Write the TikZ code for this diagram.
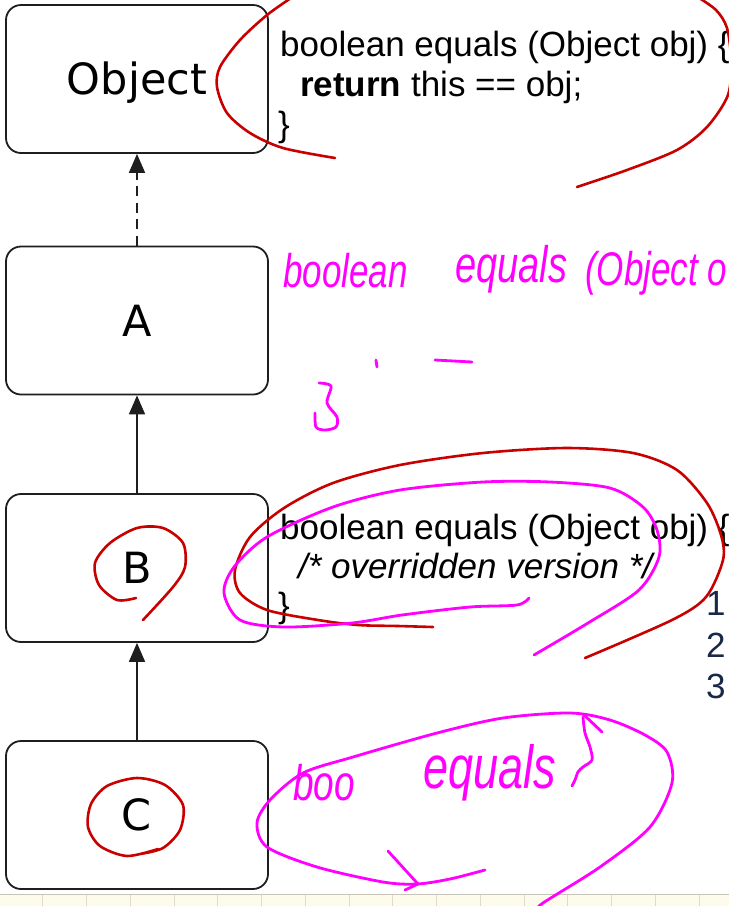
\documentclass[tikz,border=0pt]{standalone}
\usepackage{fontspec}
\setmainfont{Liberation Sans}
\newfontfamily\boxfont{DejaVu Sans}
\usetikzlibrary{arrows.meta}
\definecolor{hred}{RGB}{200,0,0}
\definecolor{hmag}{RGB}{255,0,255}
\definecolor{numnavy}{RGB}{25,40,70}
\definecolor{gridbg}{RGB}{253,251,236}
\definecolor{gridln}{RGB}{222,219,204}
\definecolor{boxln}{RGB}{30,30,30}
\newcommand{\tallhw}[1]{\scalebox{1}[1.35]{#1}}
\begin{document}
\begin{tikzpicture}[x=1pt,y=-1pt,
  classbox/.style={draw=boxln, line width=1.8pt, rounded corners=15pt,
    minimum width=262pt, minimum height=148pt, inner sep=0pt, fill=white,
    text height=31.4pt, text depth=0pt,
    font=\boxfont\fontsize{43}{50}\selectfont},
  codeline/.style={anchor=base west, inner sep=0pt, font=\fontsize{35}{40}\selectfont},
  numline/.style={anchor=base west, inner sep=0pt, text=numnavy, font=\fontsize{35}{40}\selectfont},
  hw/.style={anchor=base west, inner sep=0pt, text=hmag},
  redink/.style={draw=hred, line width=2.6pt, line cap=round, line join=round},
  magink/.style={draw=hmag, line width=2.8pt, line cap=round, line join=round},
  inherit/.style={draw=boxln, line width=1.8pt, -{Triangle[length=19pt,width=16pt]}},
  realize/.style={inherit, dash pattern=on 10pt off 6.5pt}]
\useasboundingbox (0,0) rectangle (729,906);
\clip (0,0) rectangle (729,906);
\fill[white] (0,0) rectangle (729,906);

% grid strip at the bottom
\fill[gridbg] (0,894) rectangle (729,906);
\foreach \i in {0,...,16} {
  \draw[gridln, line width=1pt] ({-1+43.75*\i},894) -- ({-1+43.75*\i},906);
}
\draw[gridln!90!black, line width=1pt] (0,894) -- (729,894);

% class boxes
\node[classbox] (obj) at (137,79) {Object};
\node[classbox] (a) at (137,320.5) {A};
\node[classbox] (b) at (137,568) {B};
\node[classbox] (c) at (137,815) {C};

% connectors
\draw[realize] (a.north) -- (obj.south);
\draw[inherit] (b.north) -- (a.south);
\draw[inherit] (c.north) -- (b.south);

% code text
\node[codeline] (tl1) at (280,56) {boolean equals (Object obj) \{};
\node[codeline] (tl2) at (300,96) {\textbf{return} this == obj;};
\node[codeline] (tl3) at (278,136) {\}};
\node[codeline] (bl1) at (280,539) {boolean equals (Object obj) \{};
\node[codeline] (bl2) at (298,578) {\textit{/* overridden version */}};
\node[codeline] (bl3) at (278,617) {\}};

% line numbers
\node[numline] (n1) at (706,615) {1};
\node[numline] (n2) at (706,657) {2};
\node[numline] (n3) at (706,698) {3};

% red ink
\draw[redink] plot[smooth] coordinates {(294,-4) (267,15) (240,40) (220,67) (217,87) (227,113) (250,133) (283,148) (335,158)};
\draw[redink] plot[smooth] coordinates {(696,-4) (716,10) (727,28) (731,60) (728,95) (707,127) (677,150) (627,170) (577,187)};
\draw[redink] plot[smooth] coordinates {(433,627) (398,626) (358,625) (318,620) (267,610) (240,593) (235,570) (250,537) (284,508) (333,483) (400,465) (483,453) (567,448) (633,453) (677,470) (707,503) (721,535) (723,560) (706,597) (672,620) (585,658)};
\draw[redink] plot[smooth] coordinates {(136,598) (117,600) (99,585) (95,563) (110,543) (137,528) (163,528) (183,543) (185,567) (173,587) (143,620)};
\draw[redink] plot[smooth] coordinates {(158,849) (127,856) (100,846) (88,827) (91,804) (107,786) (137,778) (165,785) (183,805) (180,830) (163,848) (140,854)};

% magenta ink: handwriting
\node[hw, font=\itshape\fontsize{35}{40}\selectfont] (hw1) at (283,287) {\tallhw{boolean}};
\node[hw, font=\itshape\fontsize{38}{42}\selectfont] (hw2) at (455,282) {\tallhw{equals}};
\node[hw, font=\itshape\fontsize{35}{40}\selectfont] (hw3) at (585,285) {\tallhw{(Object o}};
\draw[magink] (376,360) -- (377,367);
\draw[magink] (435,360) -- (472,362);
\draw[magink] plot[smooth] coordinates {(319,383) (331,386) (327,403) (337,417) (336,427) (325,430) (316,427) (315,413)};

% magenta loop around B code
\draw[magink] plot[smooth] coordinates {(529,598) (517,605) (470,607) (402,615) (352,623) (284,627) (240,620) (224,593) (234,567) (267,537) (333,507) (400,490) (483,482) (550,482) (610,488) (643,507) (657,530) (659,557) (639,590) (588,623) (534,655)};

% magenta bottom note
\node[hw, font=\itshape\fontsize{37}{42}\selectfont] (hw4) at (293,800) {\tallhw{boo}};
\node[hw, font=\itshape\fontsize{45}{50}\selectfont] (hw5) at (423,788) {\tallhw{equals}};
\draw[magink] plot[smooth] coordinates {(583,717) (585,733) (590,747) (592,760) (583,767) (578,772) (575,780) (572,786)};
\draw[magink] (583,714) -- (602,732);
\draw[magink] plot[smooth] coordinates {(485,870) (450,879) (417,884) (383,882) (317,867) (267,847) (257,823) (270,800) (303,773) (353,757) (437,733) (503,718) (570,713) (610,720) (645,735) (667,752) (672,783) (650,827) (600,867) (543,903) (535,912)};
\draw[magink] (388,851) -- (418,884) -- (405,890);
\end{tikzpicture}
\end{document}
